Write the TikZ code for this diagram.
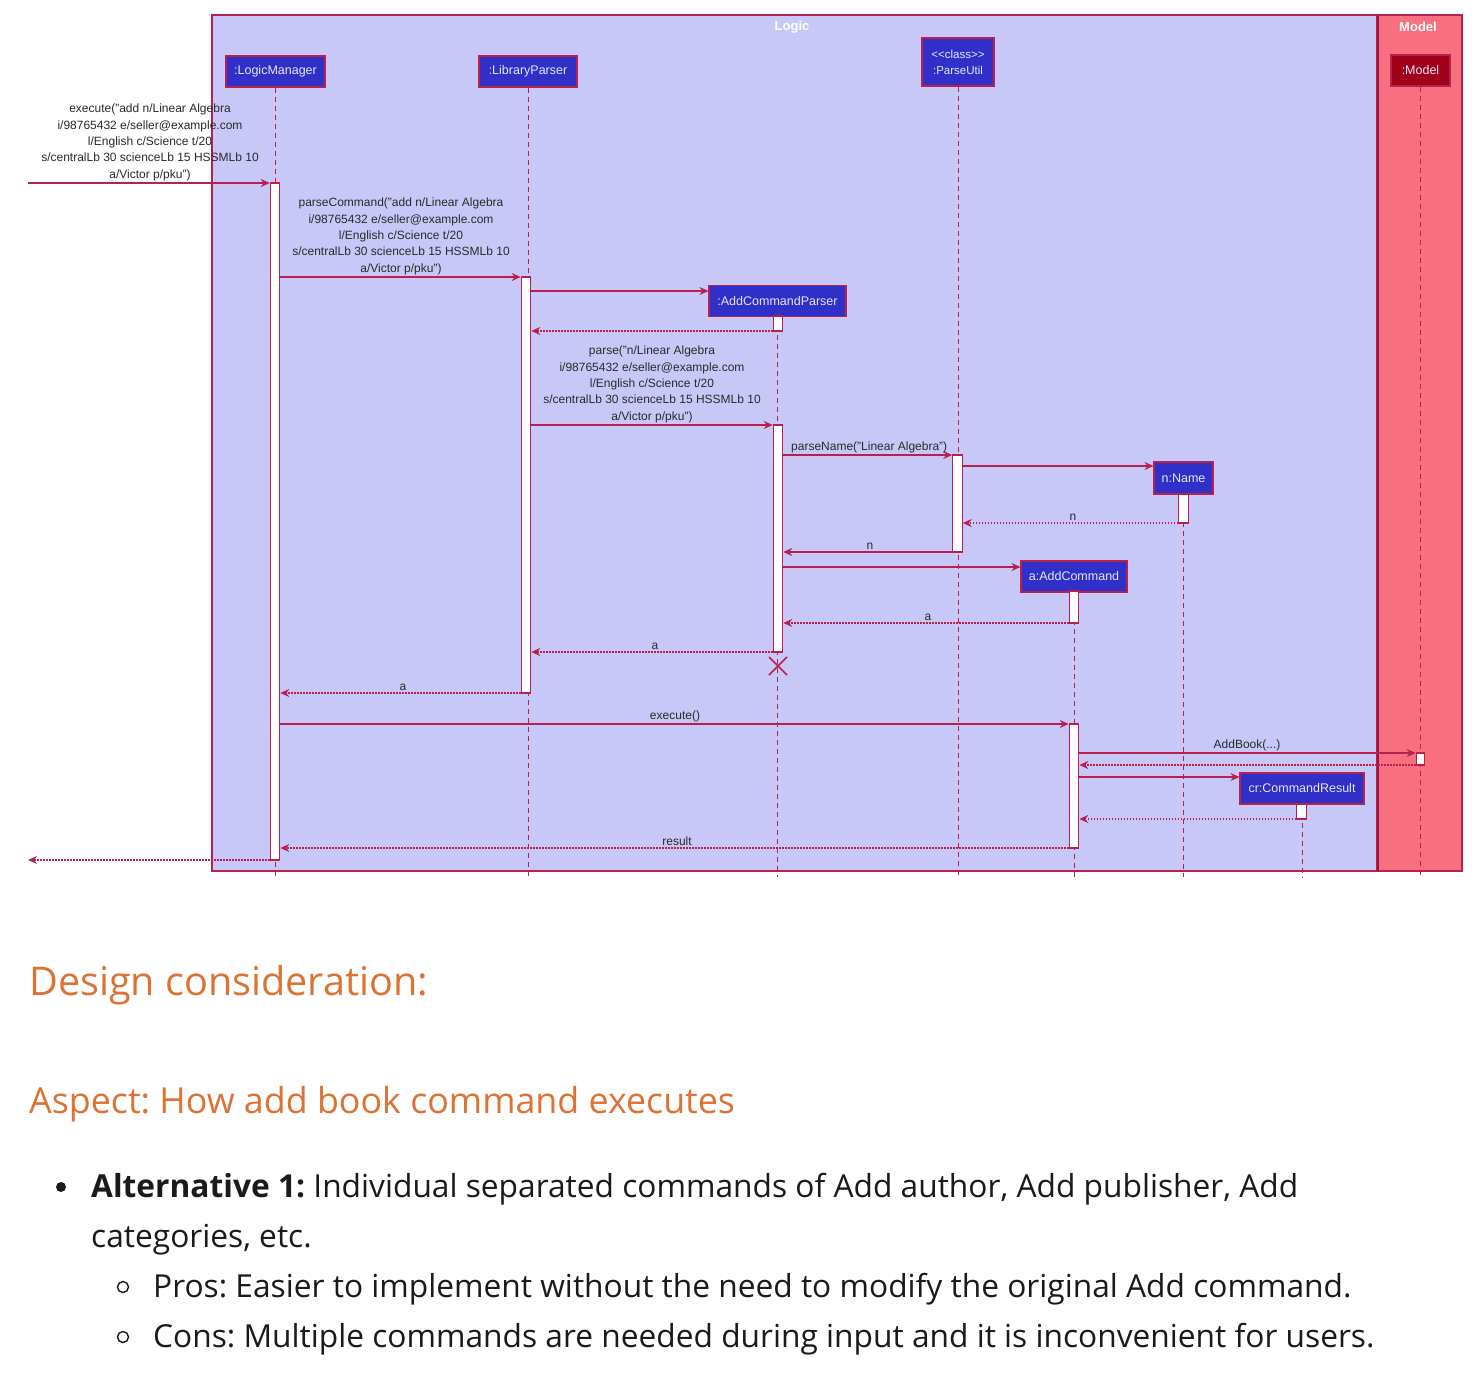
\documentclass[tikz,border=0pt]{standalone}
\usepackage{fontspec}
\setmainfont{Liberation Sans}
\newfontfamily\docfont{Open Sans}
\usetikzlibrary{arrows.meta,calc}
\definecolor{crim}{HTML}{B82050}
\definecolor{framefill}{HTML}{C8C8F8}
\definecolor{modelfill}{HTML}{F87080}
\definecolor{boxfill}{HTML}{3030C8}
\definecolor{boxtext}{HTML}{E4E4FF}
\definecolor{modelbox}{HTML}{A00018}
\definecolor{lbltext}{HTML}{2A2A2A}
\definecolor{headorange}{HTML}{DC7234}
\definecolor{bodytext}{HTML}{1A1A1A}
\tikzset{
  lbox/.style={draw=crim, fill=boxfill, text=boxtext, line width=1.1pt, inner sep=0pt,
    minimum height=31pt, font=\fontsize{12.5}{15}\selectfont, align=center},
  actbar/.style={draw=crim, fill=white, line width=1.1pt, inner sep=0pt, minimum width=9.5pt},
  lifeline/.style={draw=crim, line width=0.9pt, dash pattern=on 5pt off 4pt},
  msg/.style={draw=crim, line width=1.1pt, -{Stealth[length=9pt,width=8pt,inset=3pt]}},
  ret/.style={msg, dash pattern=on 1.5pt off 1.5pt},
  lbl/.style={text=lbltext, font=\fontsize{12}{16.4}\selectfont, align=center, inner sep=1pt},
  ftitle/.style={text=white, font=\bfseries\fontsize{13}{15}\selectfont},
  headA/.style={text=headorange, font=\docfont\fontsize{39.6}{46}\selectfont, anchor=base west, inner sep=0pt},
  headB/.style={text=headorange, font=\docfont\fontsize{35.8}{42}\selectfont, anchor=base west, inner sep=0pt},
  body/.style={text=bodytext, font=\docfont\fontsize{31.7}{38}\selectfont, anchor=base west, inner sep=0pt}
}
\begin{document}
\frenchspacing
\begin{tikzpicture}[x=1pt,y=-1pt]
\useasboundingbox (0,0) rectangle (1484,1384);
\fill[white] (0,0) rectangle (1484,1384);

% frames
\draw[crim, line width=1.2pt, fill=framefill] (212,15) rectangle (1377,871);
\draw[crim, line width=1.2pt, fill=modelfill] (1377,15) rectangle (1462,871);
\draw[crim!80!black, line width=2pt] (1378,15) -- (1378,871);
\node[ftitle] (tLogic) at (792,27) {Logic};
\node[ftitle] (tModel) at (1418,27) {Model};

% lifeline heads
\node[lbox, minimum width=99pt] (LM) at (275.5,71.5) {:LogicManager};
\node[lbox, minimum width=98pt] (LP) at (528,71.5) {:LibraryParser};
\node[lbox, minimum width=72pt, minimum height=48pt, font=\fontsize{11.5}{16}\selectfont] (PU) at (958,62) {<{}<class>{}>\\:ParseUtil};
\node[lbox, minimum width=59pt, fill=modelbox] (MO) at (1420.5,70.5) {:Model};
\node[lbox, minimum width=137pt] (ACP) at (777.5,301) {:AddCommandParser};
\node[lbox, minimum width=59pt, minimum height=32pt] (NM) at (1183.5,478) {n:Name};
\node[lbox, minimum width=106pt] (AC) at (1074,576.5) {a:AddCommand};
\node[lbox, minimum width=124pt] (CR) at (1302,788.5) {cr:CommandResult};

% lifelines
\coordinate (endy) at (0,877);
\draw[lifeline] (LM.south) -- (LM.south |- endy);
\draw[lifeline] (LP.south) -- (LP.south |- endy);
\draw[lifeline] (PU.south) -- (PU.south |- endy);
\draw[lifeline] (MO.south) -- (MO.south |- endy);
\draw[lifeline] (ACP.south) -- (ACP.south |- endy);
\draw[lifeline] (NM.south) -- (NM.south |- endy);
\draw[lifeline] (AC.south) -- (AC.south |- endy);
\draw[lifeline] (CR.south) -- (CR.south |- endy);

% activation bars
\node[actbar, minimum height=677pt] (aLM) at (275,521.5) {};
\node[actbar, minimum height=416pt] (aLP) at (526,485) {};
\node[actbar, minimum height=15pt] (aACP1) at (778,323.5) {};
\node[actbar, minimum height=227pt] (aACP2) at (778,538.5) {};
\node[actbar, minimum height=97pt] (aPU) at (957.5,503.5) {};
\node[actbar, minimum height=29pt] (aNM) at (1183.5,508.5) {};
\node[actbar, minimum height=32pt] (aAC1) at (1074,607) {};
\node[actbar, minimum height=124pt] (aAC2) at (1074,786) {};
\node[actbar, minimum height=12pt, minimum width=8.5pt] (aMO) at (1420.5,759) {};
\node[actbar, minimum height=15pt] (aCR) at (1301.5,811.5) {};

% destroy mark
\coordinate (xd) at (778,666);
\draw[crim, line width=1.5pt] ($(xd)+(-9,-9)$) -- ($(xd)+(9,9)$) ($(xd)+(-9,9)$) -- ($(xd)+(9,-9)$);

% external endpoints
\coordinate (extIn) at (28,183);
\coordinate (extOut) at (28,860);

% messages
\draw[msg] (extIn) -- (aLM.west |- extIn);
\node[lbl, anchor=south] (l1) at (150,182) {execute("add n/Linear Algebra\\i/98765432 e/seller@example.com\\l/English c/Science t/20\\s/centralLb 30 scienceLb 15 HSSMLb 10\\a/Victor p/pku")};

\draw[msg] (aLM.east |- 0,277) -- (aLP.west |- 0,277);
\node[lbl, anchor=south] (l2) at (401,276) {parseCommand("add n/Linear Algebra\\i/98765432 e/seller@example.com\\l/English c/Science t/20\\s/centralLb 30 scienceLb 15 HSSMLb 10\\a/Victor p/pku")};

\draw[msg] (aLP.east |- 0,291) -- (ACP.west |- 0,291);
\draw[ret] (aACP1.west |- 0,331) -- (aLP.east |- 0,331);

\draw[msg] (aLP.east |- 0,425) -- (aACP2.west |- 0,425);
\node[lbl, anchor=south] (l5) at (652,424) {parse("n/Linear Algebra\\i/98765432 e/seller@example.com\\l/English c/Science t/20\\s/centralLb 30 scienceLb 15 HSSMLb 10\\a/Victor p/pku")};

\draw[msg] (aACP2.east |- 0,455) -- (aPU.west |- 0,455);
\node[lbl, anchor=south west] (l6) at (790,454) {parseName("Linear Algebra")};

\draw[msg] (aPU.east |- 0,466) -- (NM.west |- 0,466);
\draw[ret] (aNM.west |- 0,523) -- (aPU.east |- 0,523);
\node[lbl, anchor=south] (l8) at (1073,522) {n};

\draw[msg] (aPU.west |- 0,552) -- (aACP2.east |- 0,552);
\node[lbl, anchor=south] (l9) at (870,551) {n};

\draw[msg] (aACP2.east |- 0,567) -- (AC.west |- 0,567);
\draw[ret] (aAC1.west |- 0,623) -- (aACP2.east |- 0,623);
\node[lbl, anchor=south] (l11) at (928,622) {a};

\draw[ret] (aACP2.west |- 0,652) -- (aLP.east |- 0,652);
\node[lbl, anchor=south] (l12) at (655,651) {a};

\draw[ret] (aLP.west |- 0,693) -- (aLM.east |- 0,693);
\node[lbl, anchor=south] (l13) at (403,692) {a};

\draw[msg] (aLM.east |- 0,724) -- (aAC2.west |- 0,724);
\node[lbl, anchor=south] (l14) at (675,723) {execute()};

\draw[msg] (aAC2.east |- 0,753) -- (aMO.west |- 0,753);
\node[lbl, anchor=south] (l15) at (1247,752) {AddBook(...)};
\draw[ret] (aMO.west |- 0,765) -- (aAC2.east |- 0,765);

\draw[msg] (aAC2.east |- 0,777) -- (CR.west |- 0,777);
\draw[ret] (aCR.west |- 0,819) -- (aAC2.east |- 0,819);

\draw[ret] (aAC2.west |- 0,848) -- (aLM.east |- 0,848);
\node[lbl, anchor=south] (l19) at (677,847) {result};

\draw[ret] (aLM.west |- extOut) -- (extOut);

% text below
\node[headA] (h1) at (29,995) {Design consideration:};
\node[headB] (h2) at (29,1113) {Aspect: How add book command executes};

\fill[bodytext] (61,1187) circle (5pt);
\node[body] (b1) at (91,1197) {\textbf{Alternative 1:} Individual separated commands of Add author, Add publisher, Add};
\node[body] (b2) at (91,1247) {categories, etc.};
\draw[bodytext, line width=1.4pt] (123,1287) circle (5.5pt);
\node[body] (b3) at (153,1297) {Pros: Easier to implement without the need to modify the original Add command.};
\draw[bodytext, line width=1.4pt] (123,1337) circle (5.5pt);
\node[body] (b4) at (153,1347) {Cons: Multiple commands are needed during input and it is inconvenient for users.};
\end{tikzpicture}
\end{document}
